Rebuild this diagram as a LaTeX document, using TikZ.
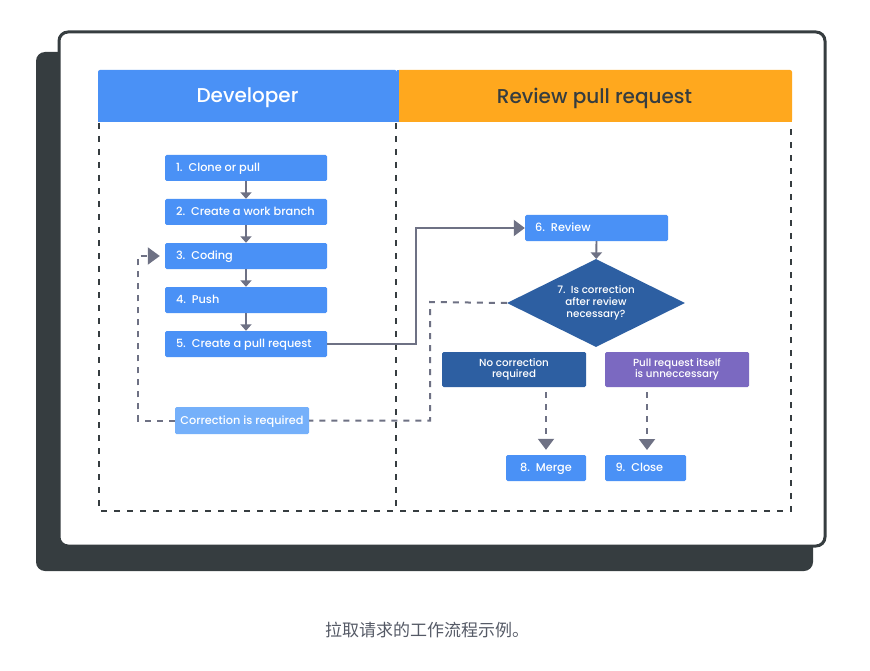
\documentclass[tikz,border=0pt]{standalone}
\usepackage{fontspec}
\setmainfont{Poppins}[UprightFont=* Medium]
\newfontfamily\cjk{Noto Sans CJK SC}
\usetikzlibrary{arrows.meta,shapes.geometric,calc}
\definecolor{bblue}{HTML}{4A91F6}
\definecolor{orng}{HTML}{FFA81E}
\definecolor{lblue}{HTML}{75B0FA}
\definecolor{dblue}{HTML}{2D5FA2}
\definecolor{purp}{HTML}{7B69C1}
\definecolor{dark}{HTML}{363D40}
\definecolor{agray}{HTML}{6E7184}
\definecolor{capgray}{HTML}{555A66}
\tikzset{
  stepbox/.style={fill=bblue, rounded corners=1.5pt, minimum width=162pt, minimum height=26pt, inner sep=0pt, text height=8.3pt, text depth=0.7pt, text=white, font=\fontsize{11.3}{13}\selectfont},
  smallbox/.style={fill=bblue, rounded corners=1.5pt, minimum height=26pt, inner sep=0pt, text height=8.3pt, text depth=0.7pt, text=white, font=\fontsize{11.3}{13}\selectfont},
  decbox/.style={rounded corners=1.5pt, minimum width=144pt, minimum height=35pt, inner sep=0pt, text=white, align=center, font=\fontsize{10.3}{11.5}\selectfont},
  smallarr/.style={draw=agray, line width=1.8pt, -{Triangle[width=11pt,length=6.5pt]}, color=agray},
  loopline/.style={draw=agray, line width=2pt, dash pattern=on 6pt off 6pt},
  frame/.style={draw=dark, line width=2.2pt, dash pattern=on 6pt off 7pt}
}
\begin{document}
\begin{tikzpicture}[x=1pt,y=-1pt]
\useasboundingbox (0,0) rectangle (870,671);
% card
\fill[dark, rounded corners=9pt] (36,52) rectangle (813,571);
\draw[dark, fill=white, line width=3pt, rounded corners=9pt] (59,32) rectangle (825,546);
% headers
\fill[bblue, rounded corners=2pt] (98,70) rectangle (397,122);
\fill[bblue] (98,100) rectangle (397,122);
\fill[orng, rounded corners=2pt] (397,70) rectangle (792,122);
\fill[orng] (397,100) rectangle (792,122);
\fill[bblue] (397,70) rectangle (399,122);
\node[text=white, font=\fontsize{20}{22}\selectfont] (hdev) at (247.5,98) {Developer};
\node[text=dark, font=\fontsize{20}{22}\selectfont] (hrev) at (594.5,98) {Review pull request};
% frame
\draw[frame] (99,123) -- (99,511) -- (791,511) -- (791,123);
\draw[frame] (396,123) -- (396,511);
% developer steps
\node[stepbox] (b1) at (246,168) {\makebox[140pt][l]{1.\ \ Clone or pull}};
\node[stepbox] (b2) at (246,212) {\makebox[140pt][l]{2.\ \ Create a work branch}};
\node[stepbox] (b3) at (246,256) {\makebox[140pt][l]{3.\ \ Coding}};
\node[stepbox] (b4) at (246,300) {\makebox[140pt][l]{4.\ \ Push}};
\node[stepbox] (b5) at (246,344) {\makebox[140pt][l]{5.\ \ Create a pull request}};
\draw[smallarr] (b1) -- (b2);
\draw[smallarr] (b2) -- (b3);
\draw[smallarr] (b3) -- (b4);
\draw[smallarr] (b4) -- (b5);
\node[smallbox, fill=lblue, minimum width=134pt, minimum height=27pt] (corr) at (242,420.5) {Correction is required};
% review side
\node[smallbox, minimum width=143pt] (rev) at (596.5,228) {\makebox[123pt][l]{6.\ \ Review}};
\node[diamond, fill=dblue, inner sep=0pt, minimum width=178pt, minimum height=88pt, aspect=2, text=white, align=center, font=\fontsize{10.3}{11.8}\selectfont] (dec) at (596,303) {7.\ \ Is correction\\after review\\necessary?};
\draw[smallarr] (rev) -- (dec);
\node[decbox, fill=dblue] (nocor) at (514,369.5) {No correction\\required};
\node[decbox, fill=purp] (unnec) at (677,369.5) {Pull request itself\\is unneccessary};
\node[smallbox, minimum width=80pt] (merge) at (546,468) {8.\ \ Merge};
\node[smallbox, minimum width=81pt] (close) at (645.5,468) {\makebox[60pt][l]{9.\ \ Close}};
% connectors
\coordinate (c3) at (416,228);
\draw[draw=agray, line width=2pt, -{Triangle[width=16pt,length=11pt]}, color=agray] (b5.east) -| (c3) -- (rev.west);
\coordinate (cl) at (138,256);
\draw[loopline, -{Triangle[width=17pt,length=12pt]}, shorten >=5pt] (corr.west) -| (cl) -- (b3.west);
\coordinate (cr) at (430,302);
\draw[loopline] (dec.west) -- (cr) |- (corr.east);
\draw[loopline, shorten <=5pt, -{Triangle[width=16pt,length=11pt]}, shorten >=5pt] (nocor.south -| merge.north) -- (merge.north);
\coordinate (u1) at (647,387);
\coordinate (u2) at (647,455);
\draw[loopline, shorten <=5pt, -{Triangle[width=16pt,length=11pt]}, shorten >=5pt] (u1) -- (u2);
% caption
\node[text=capgray, font=\cjk\fontsize{17}{20}\selectfont] (cap) at (427,630) {拉取请求的工作流程示例。};
\end{tikzpicture}
\end{document}
